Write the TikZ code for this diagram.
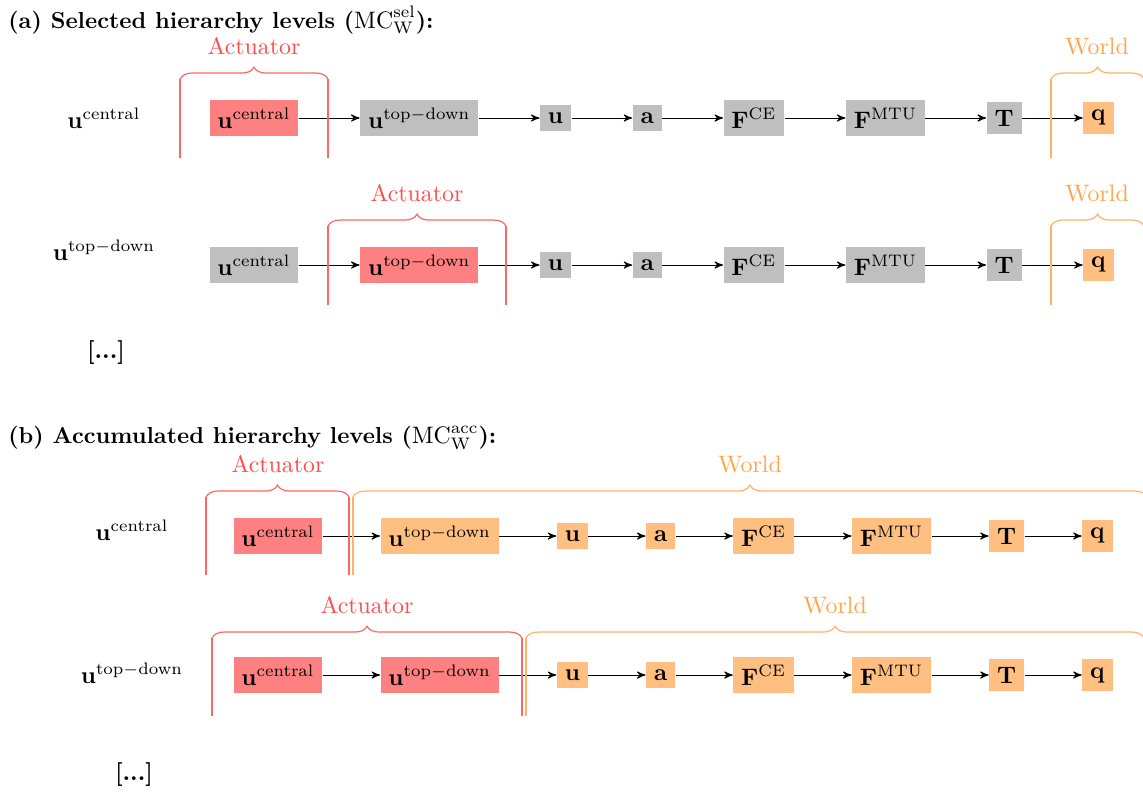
\documentclass[tikz,border=0pt]{standalone}
\usepackage{amsmath}
\usepackage{amssymb}
\usetikzlibrary{arrows,positioning,decorations.pathreplacing}

% group brace: colour, left x, right x, top y, bottom y, label, label x
\newcommand{\levelbrace}[7]{%
  \draw[-,#1!60,line width=0.5pt] (#2,#5) -- (#2,#4);
  \draw[-,#1!60,line width=0.5pt] (#3,#5) -- (#3,#4);
  \draw[-,#1!60,line width=0.5pt,decorate,decoration={brace,amplitude=5pt}] (#2,#4) -- (#3,#4);
  \node[text=#1!70] at (#7,#4-33) {#6};
}

\begin{document}
\begin{tikzpicture}[x=0.42pt,y=-0.42pt,->,>=stealth',node distance=25.5pt,
                    var/.style={fill=gray!50,inner sep=3.33pt},
                    act/.style={var,fill=red!50},
                    wld/.style={var,fill=orange!50},
                    lev/.style={anchor=center},
                    head/.style={anchor=west,font=\fontsize{9.7pt}{12pt}\selectfont}]
  \useasboundingbox (0,0) rectangle (1143,792);

  % (a) selected levels
  \node[head] (ta) at (0,20) {\textbf{(a) Selected hierarchy levels ($\mathrm{MC}^{\mathrm{sel}}_{\mathrm{W}}$):}};

  \node[lev] (l1) at (104,118) {$\mathbf{u}^{\text{central}}$};
  \node[act] (1c) at (254,118) {$\mathbf{u}^{\text{central}}$};
  \node[var] (1t) [right=of 1c] {$\mathbf{u}^{\mathrm{top-down}}$};
  \node[var] (1u) [right=of 1t] {$\mathbf{u}$};
  \node[var] (1a) [right=of 1u] {$\mathbf{a}$};
  \node[var] (1f) [right=of 1a] {$\mathbf{F}^{\mathrm{CE}}$};
  \node[var] (1m) [right=of 1f] {$\mathbf{F}^{\mathrm{MTU}}$};
  \node[var] (1T) [right=of 1m] {$\mathbf{T}$};
  \node[wld] (1q) [right=of 1T] {$\mathbf{q}$};
  \path (1c) edge (1t) (1t) edge (1u) (1u) edge (1a) (1a) edge (1f)
        (1f) edge (1m) (1m) edge (1T) (1T) edge (1q);
  \levelbrace{red}{180}{328}{79}{158}{Actuator}{254}
  \levelbrace{orange}{1051}{1144}{79}{158}{World}{1097}

  \node[lev] (l2) at (104,250) {$\mathbf{u}^{\mathrm{top-down}}$};
  \node[var] (2c) at (254,265) {$\mathbf{u}^{\text{central}}$};
  \node[act] (2t) [right=of 2c] {$\mathbf{u}^{\mathrm{top-down}}$};
  \node[var] (2u) [right=of 2t] {$\mathbf{u}$};
  \node[var] (2a) [right=of 2u] {$\mathbf{a}$};
  \node[var] (2f) [right=of 2a] {$\mathbf{F}^{\mathrm{CE}}$};
  \node[var] (2m) [right=of 2f] {$\mathbf{F}^{\mathrm{MTU}}$};
  \node[var] (2T) [right=of 2m] {$\mathbf{T}$};
  \node[wld] (2q) [right=of 2T] {$\mathbf{q}$};
  \path (2c) edge (2t) (2t) edge (2u) (2u) edge (2a) (2a) edge (2f)
        (2f) edge (2m) (2m) edge (2T) (2T) edge (2q);
  \levelbrace{red}{328}{506}{226}{305}{Actuator}{417}
  \levelbrace{orange}{1051}{1144}{226}{305}{World}{1097}

  \node[lev] (d1) at (106,353) {\textbf{[...]}};

  % (b) accumulated levels
  \node[head] (tb) at (0,438) {\textbf{(b) Accumulated hierarchy levels ($\mathrm{MC}^{\mathrm{acc}}_{\mathrm{W}}$):}};

  \begin{scope}[node distance=24pt]
  \node[lev] (l3) at (132,530) {$\mathbf{u}^{\text{central}}$};
  \node[act] (3c) at (278,536) {$\mathbf{u}^{\text{central}}$};
  \node[wld] (3t) [right=of 3c] {$\mathbf{u}^{\mathrm{top-down}}$};
  \node[wld] (3u) [right=of 3t] {$\mathbf{u}$};
  \node[wld] (3a) [right=of 3u] {$\mathbf{a}$};
  \node[wld] (3f) [right=of 3a] {$\mathbf{F}^{\mathrm{CE}}$};
  \node[wld] (3m) [right=of 3f] {$\mathbf{F}^{\mathrm{MTU}}$};
  \node[wld] (3T) [right=of 3m] {$\mathbf{T}$};
  \node[wld] (3q) [right=of 3T] {$\mathbf{q}$};
  \path (3c) edge (3t) (3t) edge (3u) (3u) edge (3a) (3a) edge (3f)
        (3f) edge (3m) (3m) edge (3T) (3T) edge (3q);
  \levelbrace{red}{206}{349}{497}{575}{Actuator}{278}
  \levelbrace{orange}{353}{1147}{497}{575}{World}{750}

  \node[lev] (l4) at (132,673) {$\mathbf{u}^{\mathrm{top-down}}$};
  \node[act] (4c) at (278,675) {$\mathbf{u}^{\text{central}}$};
  \node[act] (4t) [right=of 4c] {$\mathbf{u}^{\mathrm{top-down}}$};
  \node[wld] (4u) [right=of 4t] {$\mathbf{u}$};
  \node[wld] (4a) [right=of 4u] {$\mathbf{a}$};
  \node[wld] (4f) [right=of 4a] {$\mathbf{F}^{\mathrm{CE}}$};
  \node[wld] (4m) [right=of 4f] {$\mathbf{F}^{\mathrm{MTU}}$};
  \node[wld] (4T) [right=of 4m] {$\mathbf{T}$};
  \node[wld] (4q) [right=of 4T] {$\mathbf{q}$};
  \path (4c) edge (4t) (4t) edge (4u) (4u) edge (4a) (4a) edge (4f)
        (4f) edge (4m) (4m) edge (4T) (4T) edge (4q);
  \levelbrace{red}{212}{522}{638}{716}{Actuator}{367}
  \levelbrace{orange}{526}{1144}{638}{716}{World}{835}
  \end{scope}

  \node[lev] (d2) at (134,775) {\textbf{[...]}};
\end{tikzpicture}
\end{document}
